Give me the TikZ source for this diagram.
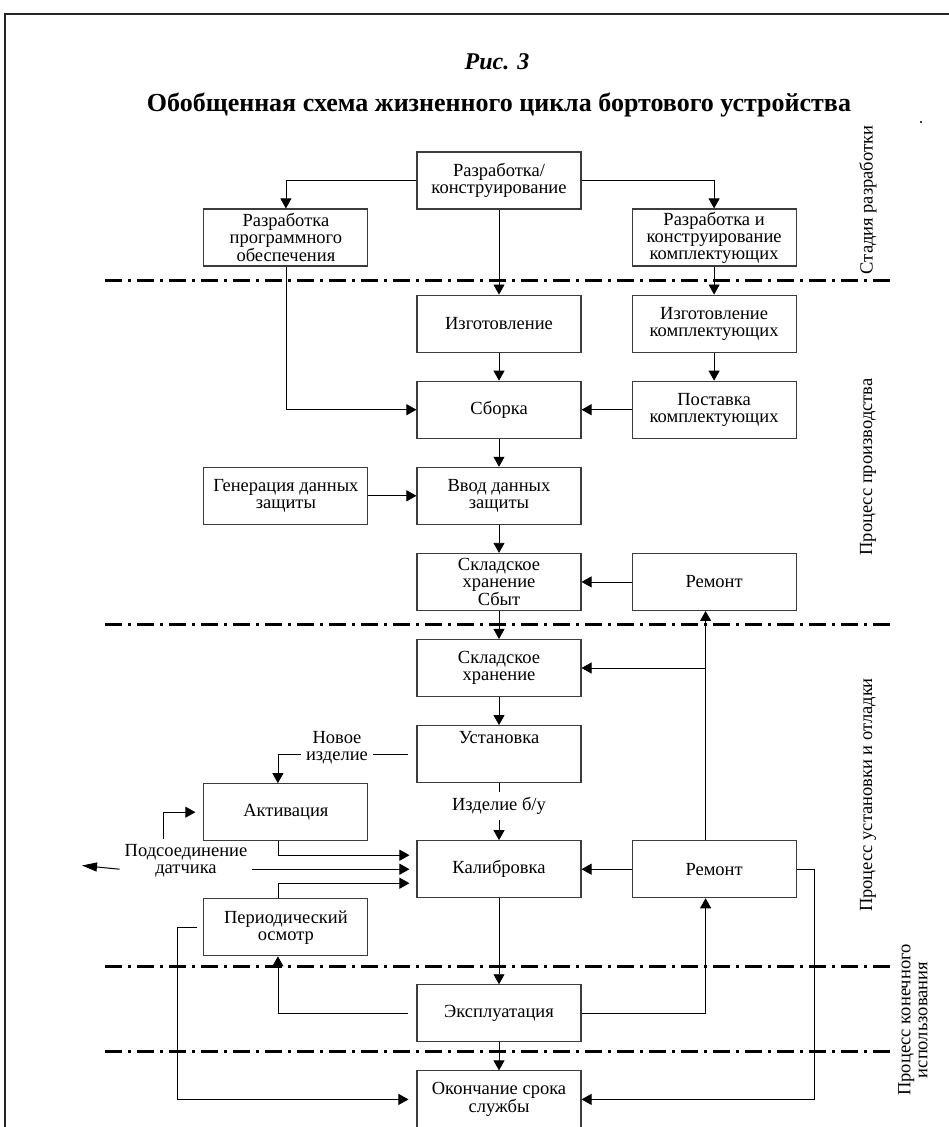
\documentclass[tikz,border=0pt]{standalone}
\usepackage{fontspec}
\setmainfont{Liberation Serif}
\usepackage{tikz}
\usetikzlibrary{arrows.meta,positioning}
\definecolor{boxline}{RGB}{60,60,60}
\newcommand{\boxfont}{\fontsize{18.5}{17}\selectfont}

\begin{document}
\begin{tikzpicture}[
      x=1pt, y=-1pt,
      box/.style={draw=boxline, line width=1.1pt, minimum width=164pt, minimum height=57pt, inner sep=2pt, align=center, font=\boxfont},
      lbl/.style={inner sep=5pt, align=center, font=\boxfont},
      stage/.style={rotate=90, align=center, font=\boxfont},
      arr/.style={-{Triangle[length=10pt,width=11pt]}, line width=0.8pt},
      bigarr/.style={-{Triangle[length=15pt,width=9pt]}, line width=1pt},
      stageline/.style={line width=3pt, dash pattern=on 17pt off 6pt on 3pt off 6pt}
    ]
      \fill[white] (0,0) rectangle (949,1127);
      \useasboundingbox (0,0) rectangle (949,1127);
      \draw[line width=2pt, black!85] (5,1127) -- (5,14) -- (949,14);

      % titles
      \node[font=\fontsize{24}{24}\selectfont\bfseries\itshape] (fig) at (497,62) {Рис. 3};
      \node[font=\fontsize{26}{26}\selectfont\bfseries] (ttl) at (499,105) {Обобщенная схема жизненного цикла бортового устройства};
      \fill (921,122) circle (1.2pt);

      % middle column
      \node[box] (razr) at (499,180.5) {Разработка/\\конструирование};
      \node[box, below=85pt of razr] (izg) {Изготовление};
      \node[box, below=28pt of izg] (sborka) {Сборка};
      \node[box, below=28pt of sborka] (vvod) {Ввод данных\\защиты};
      \node[box, below=28pt of vvod] (skl1) {Складское\\хранение\\Сбыт};
      \node[box, below=28pt of skl1] (skl2) {Складское\\хранение};
      \node[box, below=28pt of skl2] (ust) {Установка\\[17pt]};
      \node[box, below=57pt of ust] (kal) {Калибровка};
      \node[box, below=86pt of kal] (expl) {Эксплуатация};
      \node[box, below=28pt of expl] (okon) {Окончание срока\\службы};

      % right column
      \node[box, right=50pt of izg] (izgk) {Изготовление\\комплектующих};
      \node[box, above=28pt of izgk] (ravk) {Разработка и\\конструирование\\комплектующих};
      \node[box, right=50pt of sborka] (post) {Поставка\\комплектующих};
      \node[box, right=50pt of skl1] (rem1) {Ремонт};
      \node[box, right=50pt of kal] (rem2) {Ремонт};

      % left column
      \node[box, left=48pt of vvod] (gen) {Генерация данных\\защиты};
      \node[box] (soft) at (gen |- ravk) {Разработка\\программного\\обеспечения};
      \node[box, anchor=north] (act) at (gen |- ust.south) {Активация};
      \node[box, anchor=north] (per) at (gen |- kal.south) {Периодический\\осмотр};

      % labels on the lines
      \node[lbl] (novoe) at (337,748) {Новое\\изделие};
      \node[lbl] (bu) at (499,806) {Изделие б/у};
      \node[lbl] (pod) at (186,861) {Подсоединение\\датчика};
      \coordinate (sensor) at (82,865.5);
      \coordinate (remtop) at ([xshift=-8.5pt]rem2.north);
      \coordinate (rembot) at ([xshift=-8.5pt]rem2.south);

      % stages
      \node[stage] (st1) at (868,200) {Стадия разработки};
      \node[stage] (st2) at (868,467) {Процесс производства};
      \node[stage] (st3) at (868,795) {Процесс установки и отладки};
      \node[stage] (st4) at (913,1020) {Процесс конечного\\использования};
      \foreach \y in {280,624,966,1051}
        \draw[stageline] (105,\y) -- (890,\y);

      \draw[arr] (razr.west) -| (soft.north);
      \draw[arr] (razr.east) -| (ravk.north);
      \draw[arr] (razr) -- (izg);
      \draw[arr] (ravk) -- (izgk);
      \draw[arr] (izgk) -- (post);
      \draw[arr] (izg) -- (sborka);
      \draw[arr] (soft.south) |- (sborka.west);
      \draw[arr] (post) -- (sborka);
      \draw[arr] (sborka) -- (vvod);
      \draw[arr] (gen) -- (vvod);
      \draw[arr] (vvod) -- (skl1);
      \draw[arr] (rem1) -- (skl1);
      \draw[arr] (skl1) -- (skl2);
      \draw[arr] (remtop) -- (rem1.south -| remtop);
      \draw[arr] (remtop |- skl2.east) -- (skl2.east);
      \draw[arr] (skl2) -- (ust);
      \draw[line width=0.8pt] (ust) -- (bu);
      \draw[arr] (bu) -- (kal);
      \draw[line width=0.8pt, shorten <=8pt] (ust.west) -- (ust.west -| novoe.east);
      \draw[arr] (ust.west -| novoe.west) -| ([xshift=-8pt]act.north);
      \draw[arr, shorten >=8pt] ([xshift=-23pt]pod.north) |- (act.west);
      \draw[arr, shorten >=7pt] ([xshift=-8pt]act.south) |- ([yshift=14pt]kal.west);
      \draw[arr, shorten >=7pt] (pod.east |- kal.west) -- (kal.west);
      \draw[bigarr] (pod.west |- kal.west) -- (sensor);
      \draw[arr, shorten >=7pt] ([xshift=-8pt]per.north) |- ([yshift=-14pt]kal.west);
      \draw[arr] (rem2) -- (kal);
      \draw[arr] (kal) -- (expl);
      \draw[arr, shorten <=6pt, shorten >=8pt] (per.west) -- ++(-26pt,0) |- (okon.west);
      \draw[arr, shorten <=8pt] (expl.west) -| ([xshift=-8pt]per.south);
      \draw[arr] (expl.east) -| (rembot);
      \draw[arr] (expl) -- (okon);
      \draw[arr] (rem2.east) -- ++(18pt,0) |- (okon.east);
    \end{tikzpicture}
\end{document}
